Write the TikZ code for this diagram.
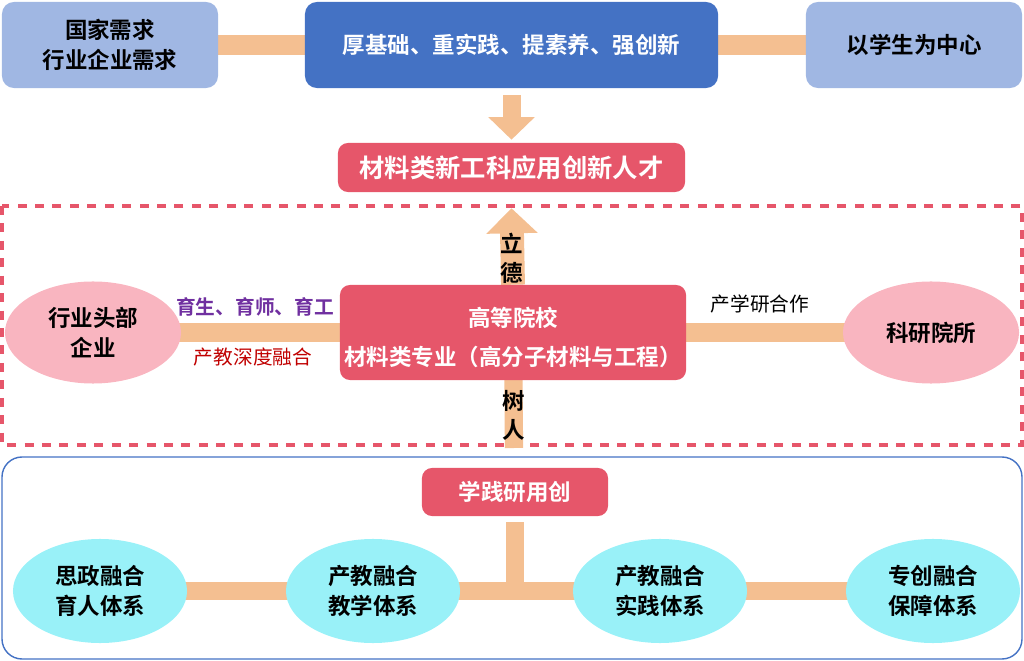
\documentclass[tikz,border=0pt]{standalone}
\usepackage{fontspec}
\setmainfont{Noto Sans CJK SC}[BoldFont={Noto Sans CJK SC Bold}]
\usepackage{tikz}
\usetikzlibrary{arrows.meta, positioning, shapes.geometric, backgrounds}

\definecolor{lightblue}{HTML}{A0B7E3}
\definecolor{deepblue}{HTML}{4472C4}
\definecolor{barorange}{HTML}{F4BF91}
\definecolor{rosered}{HTML}{E6566A}
\definecolor{softpink}{HTML}{F9B5C0}
\definecolor{softcyan}{HTML}{99F1F8}
\definecolor{labelpurple}{HTML}{7030A0}
\definecolor{labelred}{HTML}{C00000}

\begin{document}
\begin{tikzpicture}[
    x=0.025cm, y=-0.025cm,
    bigfont/.style={font=\fontsize{16}{21}\selectfont\bfseries},
    sidebox/.style={fill=lightblue, rounded corners=0.3cm, minimum width=5.4cm, minimum height=2.15cm, align=center, bigfont, inner sep=0pt},
    goalbox/.style={fill=deepblue, text=white, rounded corners=0.3cm, minimum width=10.325cm, minimum height=2.15cm, bigfont, inner sep=0pt},
    redbox/.style={fill=rosered, text=white, rounded corners=0.25cm, align=center, bigfont, inner sep=0pt},
    partner/.style={ellipse, fill=softpink, minimum width=4.4cm, minimum height=2.55cm, align=center, bigfont, inner sep=0pt},
    system/.style={ellipse, fill=softcyan, minimum width=4.35cm, minimum height=2.6cm, align=center, bigfont, inner sep=0pt},
    bar/.style={draw=barorange, line width=14pt},
    thinbar/.style={draw=barorange, line width=13pt},
    fatarrow/.style={draw=barorange, line width=12.8pt, -{Triangle[width=32pt, length=16pt]}},
    uparrow/.style={draw=barorange, line width=17pt, -{Triangle[width=35.5pt, length=17.8pt]}},
    barlabel/.style={font=\fontsize{14}{17}\selectfont},
    stemtext/.style={font=\fontsize{16}{20.6}\selectfont\bfseries, align=center, inner sep=0pt},
]
    \useasboundingbox (0,0) rectangle (1024,661);

    % Top row: demands, goals, student centred
    \node[sidebox] (need) at (110,45) {国家需求\\行业企业需求};
    \node[goalbox] (goal) at (511.5,45) {厚基础、重实践、提素养、强创新};
    \node[sidebox] (student) at (914,45) {以学生为中心};

    % Talent target
    \node[redbox, minimum width=8.675cm, minimum height=1.225cm, font=\fontsize{18}{22}\selectfont\bfseries] (talent) at (511.5,167.5) {材料类新工科应用创新人才};

    % University with partners
    \node[redbox, minimum width=8.65cm, minimum height=2.375cm] (school) at (513,332.5) {\rule{0pt}{21pt}高等院校\\[7pt]材料类专业（高分子材料与工程）};
    \node[partner] (firm) at (93,332.5) {行业头部\\企业};
    \node[partner] (inst) at (931,332.5) {科研院所};

    \node[barlabel, font=\fontsize{14}{17}\selectfont\bfseries, text=labelpurple] (yusheng) at (255,307) {育生、育师、育工};
    \node[barlabel, text=labelred] (chanjiao) at (253,357) {产教深度融合};
    \node[barlabel] (chanxue) at (760,304) {产学研合作};

    \node[stemtext] (lide) at (512,258) {立\\德};
    \node[stemtext] (shuren) at (514,415) {树\\人};
    \coordinate (shuend) at (514,448);

    % Bottom systems
    \node[redbox, minimum width=4.65cm, minimum height=1.2cm] (xjyyc) at (515,492) {学践研用创};
    \node[system] (sys1) at (100,591) {思政融合\\育人体系};
    \node[system] (sys2) at (373,591) {产教融合\\教学体系};
    \node[system] (sys3) at (660,591) {产教融合\\实践体系};
    \node[system] (sys4) at (933,591) {专创融合\\保障体系};

    \begin{scope}[on background layer]
        % frames
        \draw[rosered, line width=2.6pt, dash pattern=on 6.4pt off 6pt] (2,206) rectangle (1022,445);
        \draw[deepblue, line width=1pt, rounded corners=0.5cm] (2,457) rectangle (1022,659);

        % connectors
        \draw[bar] (need.center) -- (goal.center);
        \draw[bar] (goal.center) -- (student.center);
        \draw[thinbar] (firm.center) -- (school.center);
        \draw[thinbar] (school.center) -- (inst.center);
        \draw[uparrow] (school.north) -- ([yshift=-0.4cm]talent.south);
        \draw[thinbar] (school.center) -- (shuend);
        \draw[fatarrow] ([yshift=-0.175cm]goal.south) -- ([yshift=0.075cm]talent.north);

        \draw[thinbar] (sys1.center) -- (sys2.center) -- (sys3.center) -- (sys4.center);
        \draw[thinbar] ([yshift=-0.15cm]xjyyc.south) -- (xjyyc.south |- sys2.center);
    \end{scope}
\end{tikzpicture}
\end{document}
